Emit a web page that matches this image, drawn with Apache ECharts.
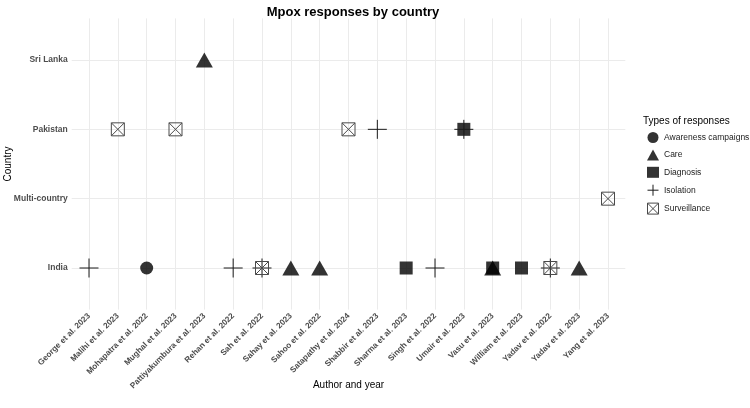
<!DOCTYPE html>
<html>
<head>
<meta charset="utf-8">
<script src="https://cdn.jsdelivr.net/npm/echarts@6/dist/echarts.min.js"></script>
<style>html,body{margin:0;background:#fff}#chart{width:750px;height:408px}</style>
</head>
<body>
<div id="chart"></div>
<script>
var authors = ['George et al. 2023', 'Malihi et al. 2023', 'Mohapatra et al. 2022', 'Mughal et al. 2023',
  'Pattiyakumbura et al. 2023', 'Rehan et al. 2022', 'Sah et al. 2022', 'Sahay et al. 2023', 'Sahoo et al. 2022',
  'Satapathy et al. 2024', 'Shabbir et al. 2023', 'Sharma et al. 2023', 'Singh et al. 2022', 'Umair et al. 2023',
  'Vasu et al. 2023', 'William et al. 2023', 'Yadav et al. 2022', 'Yadav et al. 2023', 'Yang et al. 2023'];
var countries = ['India', 'Multi-country', 'Pakistan', 'Sri Lanka'];

// [author, country] per type of response
var awareness = [['Mohapatra et al. 2022', 'India']];
var care = [['Pattiyakumbura et al. 2023', 'Sri Lanka'], ['Sahay et al. 2023', 'India'], ['Sahoo et al. 2022', 'India'],
  ['Vasu et al. 2023', 'India'], ['Yadav et al. 2023', 'India']];
var diagnosis = [['Sharma et al. 2023', 'India'], ['Umair et al. 2023', 'Pakistan'], ['Vasu et al. 2023', 'India'],
  ['William et al. 2023', 'India']];
var isolation = [['George et al. 2023', 'India'], ['Rehan et al. 2022', 'India'], ['Sah et al. 2022', 'India'],
  ['Shabbir et al. 2023', 'Pakistan'], ['Singh et al. 2022', 'India'], ['Umair et al. 2023', 'Pakistan'],
  ['Yadav et al. 2022', 'India']];
var surveillance = [['Malihi et al. 2023', 'Pakistan'], ['Mughal et al. 2023', 'Pakistan'], ['Sah et al. 2022', 'India'],
  ['Satapathy et al. 2024', 'Pakistan'], ['Yadav et al. 2022', 'India'], ['Yang et al. 2023', 'Multi-country']];

var font = 'Liberation Sans';

function toPoints(list) {
  return list.map(function (d) {
    return [authors.indexOf(d[0]), countries.indexOf(d[1])];
  });
}

var xIdx = authors.map(function (a, i) { return i; });
var yIdx = countries.map(function (c, i) { return i; });

// scatter keeps its default 0.8 opacity, black at 0.8 gives the dark grey of the reference
var fillStyle = { color: '#000' };
var plusStyle = { color: 'transparent', borderColor: '#1a1a1a', borderWidth: 1, opacity: 1 };
var boxStyle = { color: 'transparent', borderColor: '#4a4a4a', borderWidth: 1, opacity: 1 };
var plusPath = 'path://M5,0L5,10M0,5L10,5';
var boxPath = 'path://M0,0L10,0L10,10L0,10ZM0,0L10,10M10,0L0,10';

var chart = echarts.init(document.getElementById('chart'), null, { renderer: 'canvas' });

chart.setOption({
  animation: false,
  textStyle: { fontFamily: font },
  title: [{
    text: 'Mpox responses by country',
    left: 348, textAlign: 'center', top: 1,
    textStyle: { fontFamily: font, fontSize: 13, fontWeight: 'bold', color: '#000' }
  }, {
    text: 'Types of responses',
    left: 638, top: 111,
    textStyle: { fontFamily: font, fontSize: 10, fontWeight: 'normal', color: '#000' }
  }],
  legend: {
    orient: 'vertical',
    left: 642, top: 127,
    itemWidth: 12, itemHeight: 11, itemGap: 6.4,
    textStyle: { fontFamily: font, fontSize: 8.5, color: '#222' },
    data: [
      { name: 'Awareness campaigns', itemStyle: { color: '#333', opacity: 1 } },
      { name: 'Care', itemStyle: { color: '#333', opacity: 1 } },
      { name: 'Diagnosis', itemStyle: { color: '#333', opacity: 1 } },
      { name: 'Isolation', itemStyle: plusStyle },
      { name: 'Surveillance', itemStyle: boxStyle }
    ]
  },
  grid: { left: 71.7, right: 124.7, top: 18.4, bottom: 98.4, containLabel: false, outerBoundsMode: 'none' },
  xAxis: {
    type: 'value', min: -0.6, max: 18.6,
    name: 'Author and year', nameLocation: 'middle', nameGap: 71, nameMoveOverlap: false,
    nameTextStyle: { fontFamily: font, fontSize: 10, color: '#000' },
    axisLine: { show: false },
    axisTick: { show: false, customValues: xIdx },
    axisLabel: {
      customValues: xIdx, rotate: 45, margin: 5,
      fontFamily: font, fontSize: 8.2, fontWeight: 'bold', color: '#4d4d4d',
      formatter: function (v) { return authors[Math.round(v)]; }
    },
    splitLine: { show: true, lineStyle: { color: '#ebebeb', width: 1 } }
  },
  yAxis: {
    type: 'value', min: -0.6, max: 3.6,
    name: 'Country', nameLocation: 'middle', nameGap: 58, nameMoveOverlap: false,
    nameTextStyle: { fontFamily: font, fontSize: 10, color: '#000' },
    axisLine: { show: false },
    axisTick: { show: false, customValues: yIdx },
    axisLabel: {
      customValues: yIdx, margin: 4,
      fontFamily: font, fontSize: 8.5, fontWeight: 'bold', color: '#4d4d4d',
      formatter: function (v) { return countries[Math.round(v)]; }
    },
    splitLine: { show: true, lineStyle: { color: '#ebebeb', width: 1 } }
  },
  series: [{
    name: 'Awareness campaigns', type: 'scatter', symbol: 'circle', symbolSize: 13,
    itemStyle: fillStyle, data: toPoints(awareness)
  }, {
    name: 'Care', type: 'scatter', symbol: 'triangle', symbolSize: [17, 15],
    itemStyle: fillStyle, data: toPoints(care)
  }, {
    name: 'Diagnosis', type: 'scatter', symbol: 'rect', symbolSize: 13,
    itemStyle: fillStyle, data: toPoints(diagnosis)
  }, {
    name: 'Isolation', type: 'scatter', symbol: plusPath, symbolSize: 19,
    itemStyle: plusStyle, data: toPoints(isolation)
  }, {
    name: 'Surveillance', type: 'scatter', symbol: boxPath, symbolSize: 13,
    itemStyle: boxStyle, data: toPoints(surveillance)
  }]
});
</script>
</body>
</html>
